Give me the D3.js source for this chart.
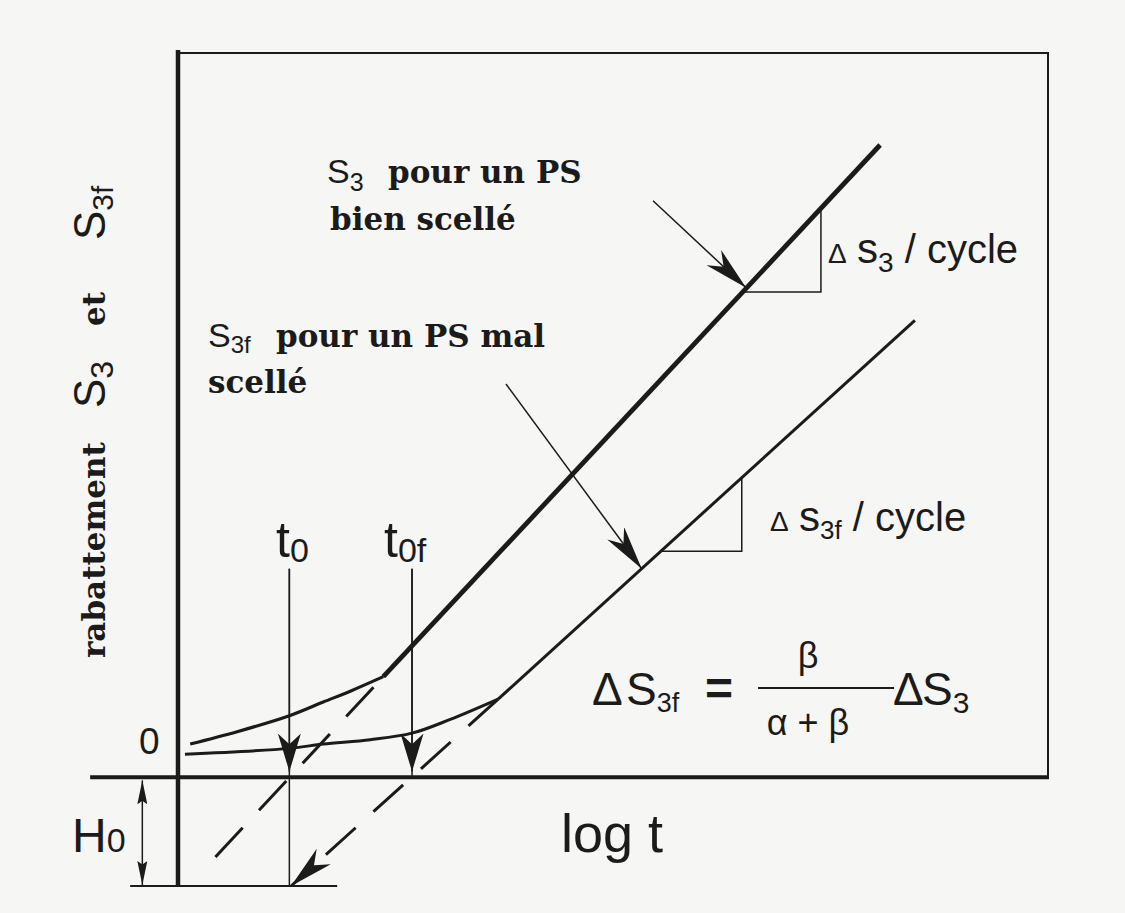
<!DOCTYPE html>
<html>
<head>
<meta charset="utf-8">
<script src="https://cdn.jsdelivr.net/npm/d3@7"></script>
<style>
body { margin:0; background:#f6f6f4; }
svg { display:block; }
</style>
</head>
<body>
<div id="graph"></div>
<script>
// courbes (x = log t, y = rabattement)
var courbeS3 = [[0.14,0.46],[0.68,0.63],[1.28,0.85],[1.67,1.04],[2.0,1.20],[2.36,1.39]];
var droiteS3 = [[2.36,1.39],[8.07,8.73]];
var courbeS3f = [[0.08,0.32],[1.28,0.40],[1.67,0.46],[2.21,0.52],[2.69,0.61],[3.13,0.80],[3.68,1.08]];
var droiteS3f = [[3.68,1.08],[8.47,6.31]];
var tiretS3 = [[0.43,-1.10],[2.36,1.39]];
var tiretS3f = [[3.68,1.08],[1.30,-1.50]];
var t0 = 1.28, t0f = 2.69, H0 = -1.5, hautT = 2.88;
var triS3 = [[6.49,6.70],[7.39,6.70],[7.39,7.86]];
var triS3f = [[5.55,3.12],[6.48,3.12],[6.48,4.14]];
var flecheS3 = [[5.46,7.96],[6.53,6.76]];
var flecheS3f = [[3.77,5.43],[5.33,2.88]];

var w = 1125, h = 913;
var ink = "#1b1b1b";
var sans = "'Liberation Sans', Arial, sans-serif",
    serif = "'DejaVu Serif', serif";

var svg = d3.select("#graph")
    .append("svg")
    .attr("width", w)
    .attr("height", h);

svg.append("rect").attr("width", w).attr("height", h).attr("fill", "#f6f6f4");

var x = d3.scaleLinear().domain([0, 10]).range([178, 1048]);
var y = d3.scaleLinear().domain([H0, 10]).range([886, 53]);

var line = d3.line()
    .x(function(d) { return x(d[0]); })
    .y(function(d) { return y(d[1]); });
var smooth = d3.line()
    .x(function(d) { return x(d[0]); })
    .y(function(d) { return y(d[1]); })
    .curve(d3.curveCatmullRom);

// pointes de fleches
var defs = svg.append("defs");
function pointe(id, len, wid, notch) {
    defs.append("marker")
        .attr("id", id)
        .attr("viewBox", [-len, -wid / 2, len + 1, wid].join(" "))
        .attr("markerUnits", "userSpaceOnUse")
        .attr("markerWidth", len + 1)
        .attr("markerHeight", wid)
        .attr("refX", 0)
        .attr("refY", 0)
        .attr("orient", "auto-start-reverse")
        .append("path")
        .attr("d", "M0,0L" + (-len) + "," + (-wid / 2) + "L" + (-len * notch) + ",0L" + (-len) + "," + (wid / 2) + "Z")
        .attr("fill", ink);
}
pointe("pt", 38, 23, 0.72);
pointe("pa", 44, 21, 0.7);
pointe("ph", 24, 10, 0.85);

// cadre
svg.append("line")
    .attr("x1", x(0)).attr("y1", y(H0))
    .attr("x2", x(0)).attr("y2", y(10) - 3)
    .attr("stroke", ink).attr("stroke-width", 4.5);
svg.append("path")
    .attr("d", line([[0, 10], [10, 10], [10, 0]]))
    .attr("fill", "none").attr("stroke", ink).attr("stroke-width", 2);
svg.append("line")
    .attr("x1", x(-1.01)).attr("y1", y(0))
    .attr("x2", x(10) + 1).attr("y2", y(0))
    .attr("stroke", ink).attr("stroke-width", 4);
svg.append("line")
    .attr("x1", x(-0.55)).attr("y1", y(H0))
    .attr("x2", x(1.83)).attr("y2", y(H0))
    .attr("stroke", ink).attr("stroke-width", 2);

// H0
svg.append("line")
    .attr("x1", x(-0.41)).attr("y1", y(0) + 3)
    .attr("x2", x(-0.41)).attr("y2", y(H0) - 1)
    .attr("stroke", ink).attr("stroke-width", 1.5)
    .attr("marker-start", "url(#ph)")
    .attr("marker-end", "url(#ph)");

// tangentes en tirets
svg.append("path")
    .attr("d", line(tiretS3))
    .attr("fill", "none").attr("stroke", ink).attr("stroke-width", 3)
    .style("stroke-dasharray", "40,24");
svg.append("path")
    .attr("d", line(tiretS3f))
    .attr("fill", "none").attr("stroke", ink).attr("stroke-width", 3)
    .style("stroke-dasharray", "40,24")
    .attr("marker-end", "url(#pa)");

// courbes
svg.append("path")
    .attr("d", smooth(courbeS3))
    .attr("fill", "none").attr("stroke", ink).attr("stroke-width", 3.2);
svg.append("path")
    .attr("d", line(droiteS3))
    .attr("fill", "none").attr("stroke", ink).attr("stroke-width", 4.8);
svg.append("path")
    .attr("d", smooth(courbeS3f))
    .attr("fill", "none").attr("stroke", ink).attr("stroke-width", 3);
svg.append("path")
    .attr("d", line(droiteS3f))
    .attr("fill", "none").attr("stroke", ink).attr("stroke-width", 3);

// t0 et t0f
[[t0, H0], [t0f, 0]].forEach(function(d) {
    svg.append("line")
        .attr("x1", x(d[0])).attr("y1", y(hautT))
        .attr("x2", x(d[0])).attr("y2", y(d[1]))
        .attr("stroke", ink).attr("stroke-width", 1.5);
    svg.append("line")
        .attr("x1", x(d[0])).attr("y1", y(hautT))
        .attr("x2", x(d[0])).attr("y2", y(0.08))
        .attr("stroke", ink).attr("stroke-width", 1.5)
        .attr("marker-end", "url(#pt)");
});

// triangles de pente
[triS3, triS3f].forEach(function(t) {
    svg.append("path")
        .attr("d", line(t))
        .attr("fill", "none").attr("stroke", ink).attr("stroke-width", 1.5);
});

// fleches des legendes
[flecheS3, flecheS3f].forEach(function(f) {
    svg.append("path")
        .attr("d", line(f))
        .attr("fill", "none").attr("stroke", ink).attr("stroke-width", 1.5)
        .attr("marker-end", "url(#pa)");
});

// textes
function texte(xx, yy, parts) {
    var t = svg.append("text").attr("x", xx).attr("y", yy).attr("fill", ink);
    parts.forEach(function(p) {
        var s = t.append("tspan").text(p.t)
            .attr("font-family", p.f || sans)
            .attr("font-size", p.s);
        if (p.b) s.attr("font-weight", "bold");
        if (p.dy) s.attr("dy", p.dy);
        if (p.x) s.attr("x", p.x);
    });
    return t;
}

texte(327, 183, [{t: "S", s: 34}, {t: "3", s: 25, dy: 8}, {t: "pour un PS", s: 31, f: serif, b: 1, dy: -8, x: 388}]);
texte(330, 230, [{t: "bien scellé", s: 31, f: serif, b: 1}]);
texte(208, 347, [{t: "S", s: 34}, {t: "3f", s: 24, dy: 6}, {t: "pour un PS mal", s: 31, f: serif, b: 1, dy: -6, x: 276}]);
texte(208, 393, [{t: "scellé", s: 31, f: serif, b: 1}]);

texte(828, 263, [{t: "\u0394", s: 28}, {t: "s", s: 42, x: 857}, {t: "3", s: 28, dy: 9}, {t: " / cycle", s: 40, dy: -9}]);
texte(770, 531, [{t: "\u0394", s: 28}, {t: "s", s: 42, x: 799}, {t: "3f", s: 26, dy: 8}, {t: " / cycle", s: 40, dy: -8}]);

texte(276, 557, [{t: "t", s: 50}, {t: "0", s: 34, dy: 5}]);
texte(384, 557, [{t: "t", s: 50}, {t: "0f", s: 34, dy: 5}]);
texte(139, 754, [{t: "0", s: 37}]);
texte(72, 852, [{t: "H", s: 48}, {t: "0", s: 34}]);
texte(561, 852, [{t: "log t", s: 54}]);

// formule
texte(592, 705, [{t: "\u0394", s: 46}, {t: "S", s: 46, x: 626}, {t: "3f", s: 27, dy: 7}, {t: "=", s: 48, b: 1, dy: -7, x: 705}]);
svg.append("line")
    .attr("x1", 758).attr("y1", 688).attr("x2", 894).attr("y2", 688)
    .attr("stroke", ink).attr("stroke-width", 2);
texte(808, 668, [{t: "\u03b2", s: 36}]).attr("text-anchor", "middle");
texte(808, 735, [{t: "\u03b1 + \u03b2", s: 36}]).attr("text-anchor", "middle");
texte(893, 705, [{t: "\u0394", s: 46}, {t: "S", s: 46, x: 922}, {t: "3", s: 30, dy: 8}]);

// titre de l'axe vertical
function vertical(yy, parts) {
    var t = svg.append("text")
        .attr("transform", "translate(105," + yy + ") rotate(-90)")
        .attr("fill", ink);
    parts.forEach(function(p) {
        var s = t.append("tspan").text(p.t)
            .attr("font-family", p.f || sans)
            .attr("font-size", p.s);
        if (p.b) s.attr("font-weight", "bold");
        if (p.dy) s.attr("dy", p.dy);
    });
}
vertical(658, [{t: "rabattement", s: 31, f: serif, b: 1}]);
vertical(408, [{t: "S", s: 44}, {t: "3", s: 32, dy: 8}]);
vertical(326, [{t: "et", s: 31, f: serif, b: 1}]);
vertical(240, [{t: "S", s: 44}, {t: "3f", s: 30, dy: 8}]);
</script>
</body>
</html>
